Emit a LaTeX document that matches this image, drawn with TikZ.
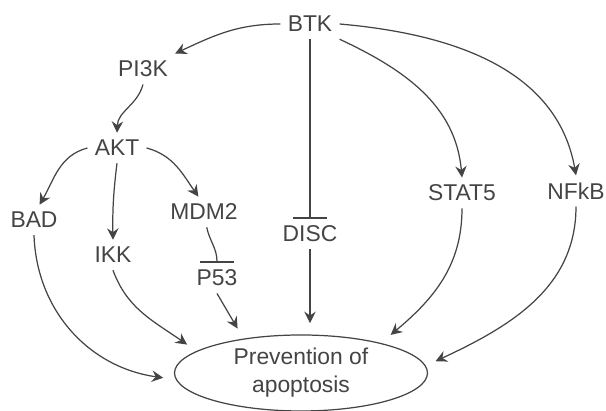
\documentclass[tikz,border=0pt]{standalone}
\usepackage{fontspec}
\setmainfont{Liberation Sans}
\usepackage{tikz}
\usetikzlibrary{positioning,arrows.meta,shapes.geometric}
\definecolor{ink}{HTML}{444444}

\begin{document}
\begin{tikzpicture}[x=0.02cm, y=0.02cm, font=\fontsize{13}{16}\selectfont,
  gene/.style={text=ink, inner sep=4pt},
  act/.style={ink, line width=0.7pt, -{Stealth[length=6.5pt,width=6.5pt,inset=2.2pt]}},
  inh/.style={ink, line width=0.7pt, -{Bar[width=19pt]}}]
\useasboundingbox (0,0) rectangle (606,411);
% signalling nodes
\node[gene] (btk) at (310,387) {BTK};
\node[gene] (pik) at (143,342) {PI3K};
\node[gene] (akt) at (117,263) {AKT};
\node[gene] (bad) at (34,191) {BAD};
\node[gene] (ikk) at (113,156) {IKK};
\node[gene] (mdm) at (204,199) {MDM2};
\node[gene] (pft) at (217,133) {P53};
\node[gene] (disc) at (310,177) {DISC};
\node[gene] (stat) at (462,218) {STAT5};
\node[gene] (nfkb) at (576,220) {NFkB};
% outcome
\node[ellipse, draw=ink, line width=0.7pt, text=ink, align=center, inner sep=0pt,
  outer sep=6.8pt, minimum width=5.06cm, minimum height=1.52cm] (apop) at (301,38)
  {Prevention of\\apoptosis};
% activation and inhibition
\draw[act] (btk.west) to[out=180,in=25] (pik.north east);
\draw[act] (pik.south) to[out=-105,in=88] (akt.north);
\draw[act] (akt.west) to[out=195,in=60] (bad.70);
\draw[act] (akt.south) to[bend right=4] (ikk.north);
\draw[act] (akt.east) to[out=-15,in=125] (mdm.110);
\draw[act] (btk.south east) to[out=-25,in=95] (stat.north);
\draw[act] (btk.east) to[out=-5,in=100] (nfkb.north);
\draw[inh] (btk.south) -- (disc.north);
\draw[inh] (mdm.-80) to[out=-78,in=90] (pft.north);
% into the outcome
\draw[act] (bad.south) to[out=-88,in=172] (apop.182);
\draw[act] (ikk.south) to[out=-70,in=145] (apop.166);
\draw[act] (pft.south) -- (apop.145);
\draw[act] (disc.south) -- (disc.south |- apop.north);
\draw[act] (stat.south) to[out=-90,in=40] (apop.23);
\draw[act] (nfkb.south) to[out=-90,in=25] (apop.5);
\end{tikzpicture}
\end{document}
